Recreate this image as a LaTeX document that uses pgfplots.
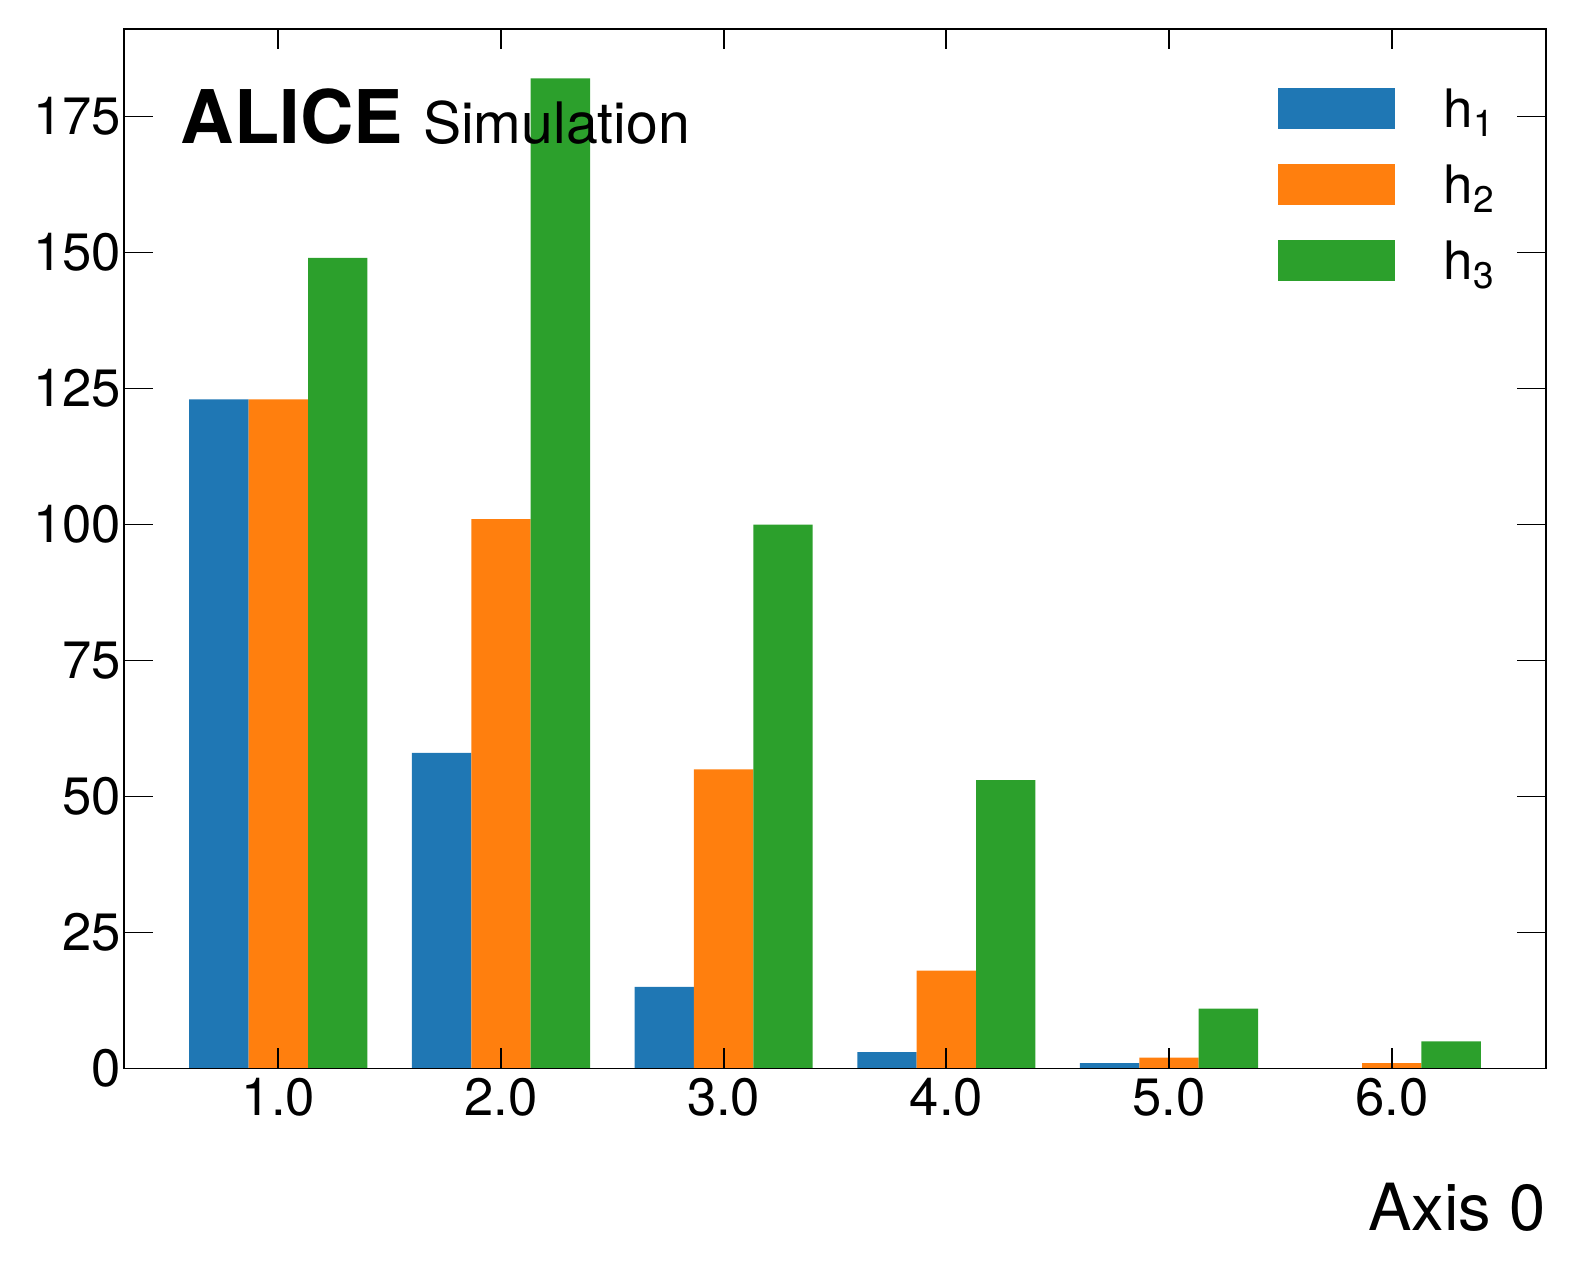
\documentclass[border=0pt]{standalone}
\usepackage{pgfplots}
\pgfplotsset{compat=1.18}
\usepackage{fontspec}
\setmainfont{TeX Gyre Heros}
\definecolor{c1}{HTML}{1F77B4}
\definecolor{c2}{HTML}{FF7F0E}
\definecolor{c3}{HTML}{2CA02C}
\pgfplotsset{geom/.style={
  at={(62pt,103.25pt)}, anchor=south west,
  scale only axis, width=711pt, height=519.75pt,
  xmin=0.307, xmax=6.693, ymin=0, ymax=191.1,
  tick align=inside,
  tick style={line width=0.85pt, black},
  axis line style={line width=0.85pt, black},
  /pgf/number format/assume math mode=true,
  tick label style={font=\fontsize{26.3}{30}\selectfont},
}}
\begin{document}
\begin{tikzpicture}
\path[use as bounding box] (0,0) rectangle (788pt,637.5pt);
\begin{axis}[geom,
  xtick=\empty,
  ytick={0,25,50,75,100,125,150,175},
  major tick length=14.5pt,
  axis on top,
  yticklabel style={xshift=2pt},
  legend style={at={(0.8113,0.9474)}, anchor=north west, draw=none, fill=none,
    inner sep=0pt, outer sep=0pt, row sep=0pt, column sep=0pt,
    font=\fontsize{26.5}{30}\selectfont,
    nodes={inner sep=0pt, text height=22pt, text depth=16pt}},
  legend cell align=left,
  legend image code/.code={\fill[#1] (0pt,-3.5pt) rectangle (58.5pt,17pt);},
]
\addplot[ybar, bar width=0.26667, bar shift=-0.26667, fill=c1, draw=none]
  coordinates {(1,123) (2,58) (3,15) (4,3) (5,1) (6,0)};
\addlegendentry{\hspace{24.5pt}h\raisebox{-4.2pt}{\fontsize{18.5}{20}\selectfont 1}}
\addplot[ybar, bar width=0.26667, bar shift=0, fill=c2, draw=none]
  coordinates {(1,123) (2,101) (3,55) (4,18) (5,2) (6,1)};
\addlegendentry{\hspace{24.5pt}h\raisebox{-4.2pt}{\fontsize{18.5}{20}\selectfont 2}}
\addplot[ybar, bar width=0.26667, bar shift=0.26667, fill=c3, draw=none]
  coordinates {(1,149) (2,182) (3,100) (4,53) (5,11) (6,5)};
\addlegendentry{\hspace{24.5pt}h\raisebox{-4.2pt}{\fontsize{18.5}{20}\selectfont 3}}
\node[anchor=base west, inner sep=0pt] at (rel axis cs:0.0398,0.8894)
  {\fontsize{37}{44}\selectfont\bfseries ALICE};
\node[anchor=base west, inner sep=0pt] at (rel axis cs:0.2100,0.8894)
  {\fontsize{28.6}{34}\selectfont Simulation};
\end{axis}
\begin{axis}[geom,
  ytick=\empty,
  xtick={1,2,3,4,5,6}, xticklabels={1.0,2.0,3.0,4.0,5.0,6.0},
  major tick length=10pt,
  xticklabel style={yshift=-1.2pt},
  xlabel={Axis 0},
  xlabel style={at={(rel axis cs:1,0)}, anchor=base east, yshift=-81pt, inner sep=0pt, font=\fontsize{32.5}{38}\selectfont},
]
\end{axis}
\end{tikzpicture}
\end{document}
